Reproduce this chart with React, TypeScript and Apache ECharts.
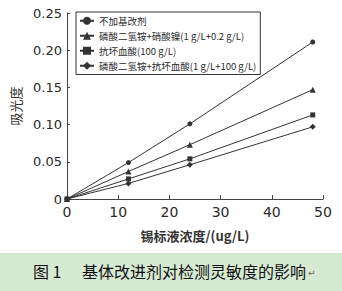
import React, { useEffect, useRef } from "react";
import * as echarts from "echarts";

const xValues = [0, 12, 24, 48];
const seriesNames = [
  "不加基改剂",
  "磷酸二氢铵+硝酸镍(1 g/L+0.2 g/L)",
  "抗坏血酸(100 g/L)",
  "磷酸二氢铵+抗坏血酸(1 g/L+100 g/L)",
];
const s1 = [0, 0.049, 0.101, 0.211];
const s2 = [0, 0.037, 0.073, 0.147];
const s3 = [0, 0.027, 0.054, 0.113];
const s4 = [0, 0.021, 0.046, 0.097];
const symbols = ["circle", "triangle", "rect", "diamond"];
const symbolSizes = [5, 6, 5, 6];
const allSeries = [s1, s2, s3, s4];

const yTicks = [0, 0.05, 0.1, 0.15, 0.2, 0.25];
const xTicks = [0, 10, 20, 30, 40, 50];

export default function App() {
  const ref = useRef<HTMLDivElement>(null);
  useEffect(() => {
    const chart = echarts.init(ref.current!, undefined, { renderer: "svg" });
    const ink = "#2a2a2a";
    chart.setOption({
      animation: false,
      backgroundColor: "#ffffff",
      grid: { left: 67, right: 19, top: 13, bottom: 92, containLabel: false },
      legend: {
        orient: "vertical",
        left: 76,
        top: 12,
        data: seriesNames,
        borderColor: "#333",
        borderWidth: 1,
        padding: [4, 4, 4, 3],
        itemWidth: 14,
        itemHeight: 10,
        itemGap: 5.5,
        backgroundColor: "#fff",
        textStyle: { fontSize: 9.5, color: ink, fontFamily: "Noto Sans CJK SC" },
      },
      xAxis: {
        type: "value",
        min: xTicks[0],
        max: xTicks[xTicks.length - 1],
        interval: 10,
        name: "锡标液浓度/(ug/L)",
        nameLocation: "middle",
        nameGap: 30,
        nameTextStyle: { fontSize: 13, color: "#333", fontFamily: "Noto Sans CJK SC", fontWeight: "bold" },
        axisLine: { lineStyle: { color: "#444", width: 1 } },
        axisTick: { inside: true, length: 4, lineStyle: { color: "#444" } },
        axisLabel: { fontSize: 14, color: ink, fontFamily: "DejaVu Sans", margin: 6 },
        splitLine: { show: false },
      },
      yAxis: {
        type: "value",
        min: yTicks[0],
        max: yTicks[yTicks.length - 1],
        interval: 0.05,
        name: "吸光度",
        nameLocation: "middle",
        nameGap: 38,
        nameRotate: 90,
        nameTextStyle: { fontSize: 13, color: "#333", fontFamily: "Noto Sans CJK SC" },
        axisLine: { show: true, lineStyle: { color: "#444", width: 1 } },
        axisTick: { show: true, inside: true, length: 3, lineStyle: { color: "#444" } },
        axisLabel: {
          fontSize: 13,
          color: ink,
          fontFamily: "DejaVu Sans",
          margin: 5,
          formatter: (v: number) => (v === 0 ? "0" : v.toFixed(2)),
        },
        splitLine: { show: false },
      },
      graphic: [
        {
          type: "rect",
          left: 0,
          top: 253,
          shape: { width: 342, height: 38 },
          style: { fill: "#d6ead3" },
          silent: true,
        },
        {
          type: "text",
          left: 33,
          top: 263,
          style: {
            text: "图 1",
            fontSize: 16,
            fill: "#111",
            fontFamily: "Noto Sans CJK SC",
          },
        },
        {
          type: "text",
          left: 82,
          top: 263,
          style: {
            text: "基体改进剂对检测灵敏度的影响",
            fontSize: 16,
            fill: "#111",
            fontFamily: "Noto Sans CJK SC",
          },
        },
        {
          type: "text",
          left: 308,
          top: 268,
          style: { text: "↵", fontSize: 9, fill: "#666", fontFamily: "DejaVu Sans" },
        },
      ],
      series: allSeries.map((d, i) => ({
        name: seriesNames[i],
        type: "line",
        data: d.map((v, j) => [xValues[j], v]),
        symbol: symbols[i],
        symbolSize: symbolSizes[i],
        showAllSymbol: true,
        lineStyle: { color: "#333", width: 1 },
        itemStyle: { color: "#333" },
      })),
    });
    return () => chart.dispose();
  }, []);
  return (
    <div
      ref={ref}
      style={{ position: "absolute", left: 0, top: 0, width: 342, height: 291 }}
    />
  );
}
